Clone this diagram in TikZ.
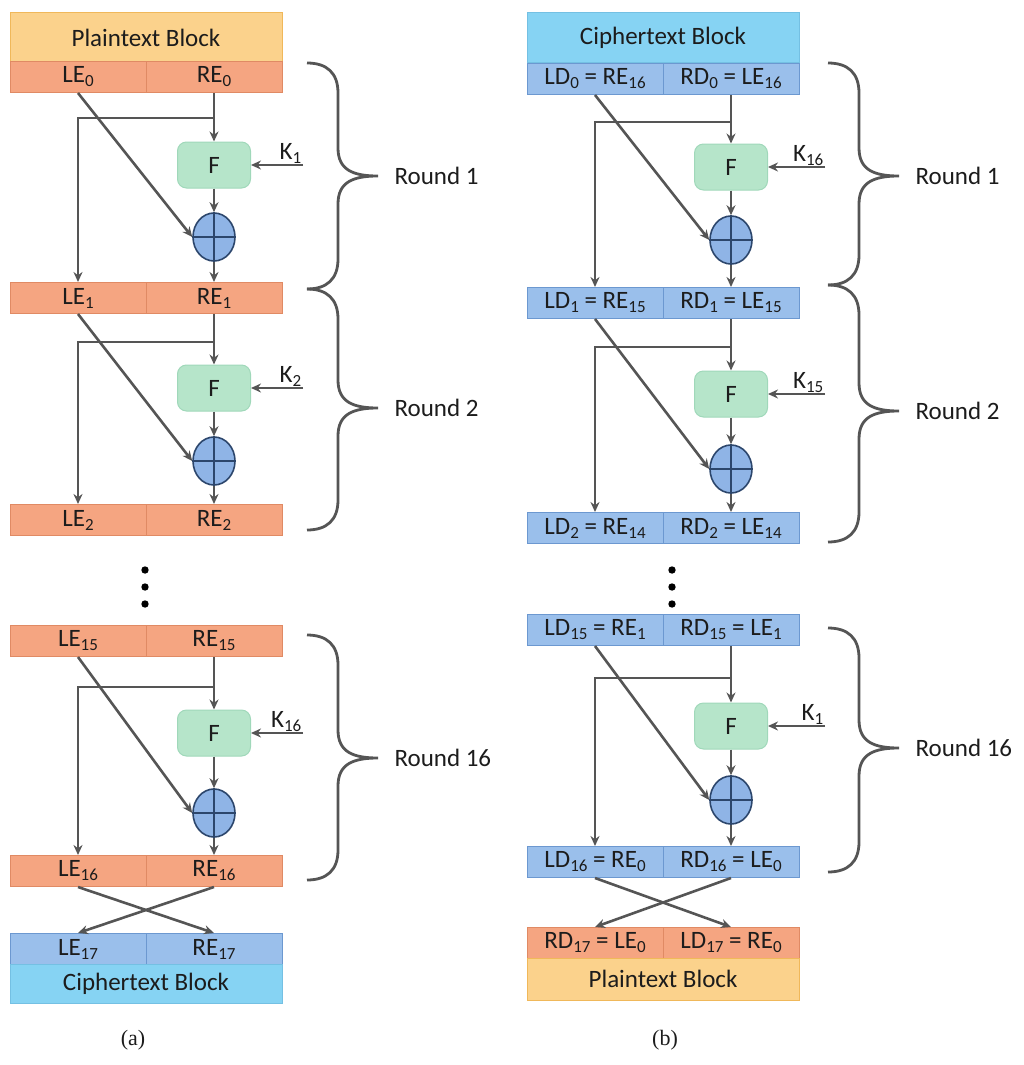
\documentclass[tikz,border=0pt]{standalone}
\usepackage{fontspec}
\setmainfont{Carlito}
\newfontfamily\capfont{Liberation Serif}
\usetikzlibrary{arrows.meta,shapes.geometric}

\definecolor{lineg}{HTML}{555555}
\definecolor{txtc}{HTML}{1C1C1C}
\definecolor{colO}{HTML}{F5A581}
\definecolor{colOb}{HTML}{E08A64}
\definecolor{colB}{HTML}{9ABFEB}
\definecolor{colBb}{HTML}{6C98D0}
\definecolor{colP}{HTML}{FBD28C}
\definecolor{colPb}{HTML}{F0B85A}
\definecolor{colC}{HTML}{86D3F3}
\definecolor{colCb}{HTML}{74C0E3}
\definecolor{colF}{HTML}{B6E5CA}
\definecolor{colFb}{HTML}{A0D8BA}
\definecolor{colX}{HTML}{8FB4E6}
\definecolor{colXb}{HTML}{2C466C}

% lowered subscript
\newcommand\sbs[1]{\raisebox{-4pt}{\fontsize{17}{17}\selectfont #1}}

\tikzset{
  ocell/.style={draw=colOb, fill=colO, line width=1pt, minimum width=136, minimum height=31, inner sep=0pt},
  bcell/.style={draw=colBb, fill=colB, line width=1pt, minimum width=136, minimum height=31, inner sep=0pt},
  phead/.style={draw=colPb, fill=colP, line width=1pt, minimum width=272, inner sep=0pt},
  chead/.style={draw=colCb, fill=colC, line width=1pt, minimum width=272, inner sep=0pt},
  fnode/.style={draw=colFb, fill=colF, line width=1pt, rounded corners=9pt, minimum width=73, minimum height=46},
  xorn/.style={ellipse, draw=colXb, fill=colX, line width=1.6pt, minimum width=42, minimum height=48, inner sep=0pt},
  conn/.style={draw=lineg, line width=2.6pt},
  brc/.style={draw=lineg, line width=2.8pt}
}

\begin{document}
\begin{tikzpicture}[x=1pt, y=-1pt, >={Stealth[length=10pt,width=9pt]},
  every node/.style={font=\fontsize{25}{28}\selectfont, text=txtc}]
\useasboundingbox (0,0) rectangle (1024,1065);

% (a) encryption
\node[phead, minimum height=49] (aP) at (146,37.5) {Plaintext Block};
\node[ocell] (aL0) at (78,77) {LE\sbs{0}};
\node[ocell] (aR0) at (214,77) {RE\sbs{0}};
\node[ocell] (aL1) at (78,298) {LE\sbs{1}};
\node[ocell] (aR1) at (214,298) {RE\sbs{1}};
\node[ocell] (aL2) at (78,520) {LE\sbs{2}};
\node[ocell] (aR2) at (214,520) {RE\sbs{2}};
\node[ocell] (aL15) at (78,641) {LE\sbs{15}};
\node[ocell] (aR15) at (214,641) {RE\sbs{15}};
\node[ocell] (aL16) at (78,871) {LE\sbs{16}};
\node[ocell] (aR16) at (214,871) {RE\sbs{16}};
\node[bcell] (aL17) at (78,949) {LE\sbs{17}};
\node[bcell] (aR17) at (214,949) {RE\sbs{17}};
\node[chead, minimum height=39] (aC) at (146,984) {Ciphertext Block};

% (b) decryption
\node[chead, minimum height=50] (bC) at (663,38) {Ciphertext Block};
\node[bcell] (bL0) at (595,79) {LD\sbs{0} = RE\sbs{16}};
\node[bcell] (bR0) at (731,79) {RD\sbs{0} = LE\sbs{16}};
\node[bcell] (bL1) at (595,303) {LD\sbs{1} = RE\sbs{15}};
\node[bcell] (bR1) at (731,303) {RD\sbs{1} = LE\sbs{15}};
\node[bcell] (bL2) at (595,528) {LD\sbs{2} = RE\sbs{14}};
\node[bcell] (bR2) at (731,528) {RD\sbs{2} = LE\sbs{14}};
\node[bcell] (bL15) at (595,630) {LD\sbs{15} = RE\sbs{1}};
\node[bcell] (bR15) at (731,630) {RD\sbs{15} = LE\sbs{1}};
\node[bcell] (bL16) at (595,862) {LD\sbs{16} = RE\sbs{0}};
\node[bcell] (bR16) at (731,862) {RD\sbs{16} = LE\sbs{0}};
\node[ocell] (bL17) at (595,943) {RD\sbs{17} = LE\sbs{0}};
\node[ocell] (bR17) at (731,943) {LD\sbs{17} = RE\sbs{0}};
\node[phead, minimum height=42] (bP) at (663,979) {Plaintext Block};

% one Feistel round
\foreach \col/\tp/\bt/\xr/\ys/\yf/\yx/\kk/\kx in
  {a/0/1/214/118/165/237/1/303, a/1/2/214/342/388/461/2/303, a/15/16/214/687/733/813/16/303,
   b/0/1/731/122/167/240/16/825, b/1/2/731/347/394/469/15/825, b/15/16/731/678/726/800/1/825}
{
  \node[fnode] (\col F\bt) at (\xr,\yf) {F};
  \node[xorn] (\col X\bt) at (\xr,\yx) {};
  \draw[colXb, line width=1.6pt] (\col X\bt.north) -- (\col X\bt.south) (\col X\bt.west) -- (\col X\bt.east);
  \coordinate (\col S\bt) at (\xr,\ys);
  \coordinate (\col K\bt) at (\kx,\yf);
  \draw[conn,->] (\col R\tp.south) -- (\col F\bt.north);
  \draw[conn,->] (\col S\bt) -| (\col L\bt.north);
  \draw[conn,->] (\col L\tp.south) -- (\col X\bt.west);
  \draw[conn,->] (\col F\bt.south) -- (\col X\bt.north);
  \draw[conn,->] (\col X\bt.south) -- (\col R\bt.north);
  \draw[conn,->] (\col K\bt) -- (\col F\bt.east);
  \node[anchor=south east, inner sep=1.5pt] (\col k\bt) at (\col K\bt) {K\sbs{\kk}};
}

% final swap
\draw[conn,->] (aL16.south) -- (aR17.north);
\draw[conn,->] (aR16.south) -- (aL17.north);
\draw[conn,->] (bL16.south) -- (bR17.north);
\draw[conn,->] (bR16.south) -- (bL17.north);

% rounds left out
\foreach \y in {570,587,604}
{
  \fill[black] (145,\y) circle[radius=3.7pt];
  \fill[black] (672,\y) circle[radius=3.7pt];
}

% braces
\foreach \bx/\yt/\ye/\ym/\lab [count=\i] in
  {307/63/289/176/Round 1, 307/289/530/408/Round 2, 307/635/880/758/Round 16,
   828/63/285/176/Round 1, 828/285/542/411/Round 2, 828/628/872/748/Round 16}
{
  \draw[brc] (\bx,\yt) .. controls (\bx+20,\yt) and (\bx+31,\yt+10) .. (\bx+31,\yt+30)
    -- (\bx+31,\ym-28) .. controls (\bx+31,\ym-6) and (\bx+46,\ym) .. (\bx+71,\ym)
    .. controls (\bx+46,\ym) and (\bx+31,\ym+6) .. (\bx+31,\ym+28)
    -- (\bx+31,\ye-30) .. controls (\bx+31,\ye-10) and (\bx+20,\ye) .. (\bx,\ye);
  \node[anchor=west] (rnd\i) at (\bx+84,\ym) {\lab};
}

\node[font=\capfont\fontsize{22}{24}\selectfont] (capa) at (133,1040) {(a)};
\node[font=\capfont\fontsize{22}{24}\selectfont] (capb) at (665,1040) {(b)};

\end{tikzpicture}
\end{document}
